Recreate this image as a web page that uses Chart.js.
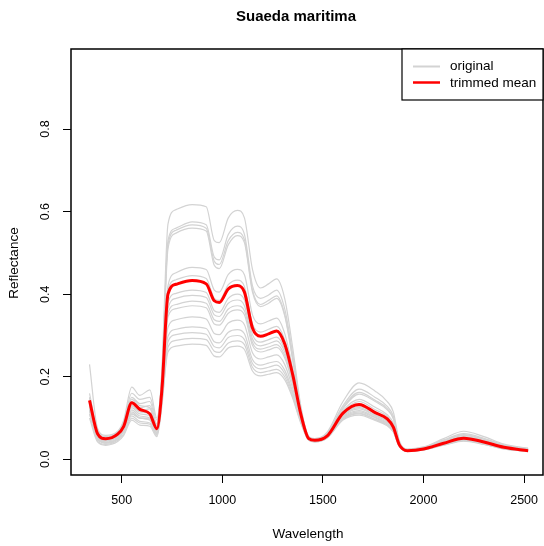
<!DOCTYPE html>
<html>
<head>
<meta charset="utf-8">
<script src="https://cdn.jsdelivr.net/npm/chart.js@4/dist/chart.umd.min.js"></script>
<style>
  html, body { margin: 0; padding: 0; background: #fff; }
  #plot { display: block; }
</style>
</head>
<body>
<canvas id="plot" width="544" height="546"></canvas>
<script>
// Suaeda maritima reflectance spectra (grey) with the trimmed mean (red)

const wavelengths = [340, 380, 420, 480, 510, 550, 590, 640, 675, 700, 730, 770, 850, 920, 960, 985,
    1030, 1075, 1110, 1150, 1190, 1230, 1270, 1310, 1350, 1390, 1430, 1460, 1520, 1600, 1680, 1760,
    1820, 1850, 1880, 1920, 2000, 2100, 2200, 2300, 2400, 2520];

const trimmedMean = [0.143, 0.062, 0.050, 0.061, 0.080, 0.137, 0.121, 0.110, 0.074, 0.170, 0.400, 0.424, 0.433, 0.425, 0.384, 0.380,
    0.413, 0.421, 0.405, 0.318, 0.298, 0.304, 0.311, 0.280, 0.205, 0.110, 0.050, 0.046, 0.056, 0.112, 0.133, 0.113,
    0.098, 0.078, 0.035, 0.021, 0.025, 0.039, 0.051, 0.042, 0.029, 0.021];

const spectrum01 = [0.130, 0.055, 0.045, 0.055, 0.075, 0.130, 0.115, 0.110, 0.070, 0.220, 0.570, 0.605, 0.617, 0.612, 0.530, 0.525,
    0.585, 0.603, 0.585, 0.460, 0.415, 0.425, 0.437, 0.390, 0.270, 0.130, 0.055, 0.050, 0.065, 0.140, 0.185, 0.165,
    0.140, 0.115, 0.045, 0.025, 0.030, 0.050, 0.068, 0.055, 0.037, 0.027];
const spectrum02 = [0.120, 0.050, 0.040, 0.050, 0.070, 0.120, 0.105, 0.100, 0.065, 0.200, 0.530, 0.560, 0.575, 0.568, 0.490, 0.483,
    0.545, 0.565, 0.545, 0.420, 0.390, 0.398, 0.410, 0.365, 0.255, 0.125, 0.055, 0.050, 0.062, 0.130, 0.170, 0.150,
    0.128, 0.105, 0.042, 0.024, 0.029, 0.047, 0.062, 0.051, 0.035, 0.026];
const spectrum03 = [0.150, 0.060, 0.048, 0.058, 0.080, 0.145, 0.130, 0.125, 0.080, 0.210, 0.520, 0.555, 0.568, 0.560, 0.480, 0.472,
    0.530, 0.550, 0.532, 0.410, 0.375, 0.385, 0.396, 0.352, 0.245, 0.120, 0.054, 0.049, 0.060, 0.126, 0.162, 0.143,
    0.123, 0.100, 0.040, 0.023, 0.028, 0.045, 0.060, 0.049, 0.034, 0.025];
const spectrum04 = [0.120, 0.052, 0.042, 0.052, 0.070, 0.115, 0.100, 0.095, 0.062, 0.190, 0.510, 0.548, 0.560, 0.553, 0.470, 0.462,
    0.520, 0.542, 0.525, 0.405, 0.370, 0.378, 0.390, 0.348, 0.240, 0.118, 0.053, 0.048, 0.059, 0.123, 0.158, 0.140,
    0.120, 0.098, 0.040, 0.023, 0.028, 0.044, 0.058, 0.048, 0.033, 0.024];
const spectrum05 = [0.110, 0.050, 0.040, 0.050, 0.068, 0.110, 0.100, 0.095, 0.065, 0.170, 0.420, 0.452, 0.465, 0.460, 0.410, 0.405,
    0.448, 0.460, 0.447, 0.350, 0.328, 0.335, 0.342, 0.305, 0.220, 0.115, 0.052, 0.047, 0.058, 0.118, 0.145, 0.126,
    0.108, 0.088, 0.037, 0.022, 0.027, 0.042, 0.055, 0.046, 0.031, 0.023];
const spectrum06 = [0.160, 0.070, 0.055, 0.066, 0.090, 0.160, 0.145, 0.150, 0.095, 0.190, 0.410, 0.435, 0.445, 0.438, 0.390, 0.385,
    0.423, 0.434, 0.418, 0.328, 0.308, 0.315, 0.322, 0.290, 0.210, 0.112, 0.052, 0.047, 0.057, 0.115, 0.140, 0.120,
    0.104, 0.083, 0.036, 0.022, 0.026, 0.041, 0.053, 0.044, 0.030, 0.022];
const spectrum07 = [0.230, 0.075, 0.058, 0.068, 0.095, 0.175, 0.155, 0.168, 0.100, 0.190, 0.380, 0.402, 0.410, 0.404, 0.360, 0.356,
    0.390, 0.400, 0.386, 0.302, 0.284, 0.290, 0.296, 0.267, 0.196, 0.106, 0.050, 0.046, 0.056, 0.110, 0.132, 0.113,
    0.098, 0.079, 0.035, 0.021, 0.025, 0.040, 0.051, 0.042, 0.029, 0.021];
const spectrum08 = [0.130, 0.058, 0.046, 0.056, 0.075, 0.125, 0.110, 0.105, 0.070, 0.160, 0.365, 0.390, 0.397, 0.392, 0.350, 0.346,
    0.378, 0.386, 0.372, 0.292, 0.275, 0.280, 0.287, 0.260, 0.190, 0.104, 0.050, 0.045, 0.055, 0.108, 0.128, 0.110,
    0.095, 0.077, 0.034, 0.021, 0.025, 0.039, 0.050, 0.041, 0.028, 0.021];
const spectrum09 = [0.140, 0.060, 0.048, 0.060, 0.082, 0.140, 0.125, 0.130, 0.080, 0.170, 0.355, 0.375, 0.383, 0.378, 0.338, 0.334,
    0.364, 0.372, 0.360, 0.283, 0.267, 0.272, 0.278, 0.252, 0.186, 0.102, 0.049, 0.045, 0.055, 0.106, 0.125, 0.107,
    0.093, 0.075, 0.034, 0.021, 0.025, 0.038, 0.049, 0.040, 0.028, 0.020];
const spectrum10 = [0.120, 0.050, 0.040, 0.050, 0.068, 0.105, 0.092, 0.088, 0.060, 0.150, 0.345, 0.365, 0.372, 0.367, 0.328, 0.325,
    0.354, 0.362, 0.350, 0.276, 0.260, 0.265, 0.271, 0.246, 0.182, 0.100, 0.049, 0.044, 0.054, 0.104, 0.122, 0.105,
    0.091, 0.073, 0.033, 0.020, 0.024, 0.037, 0.048, 0.040, 0.027, 0.020];
const spectrum11 = [0.150, 0.065, 0.050, 0.062, 0.085, 0.150, 0.135, 0.140, 0.085, 0.170, 0.320, 0.338, 0.345, 0.340, 0.305, 0.302,
    0.330, 0.337, 0.326, 0.258, 0.243, 0.248, 0.253, 0.230, 0.172, 0.097, 0.048, 0.044, 0.054, 0.102, 0.118, 0.102,
    0.088, 0.071, 0.033, 0.020, 0.024, 0.037, 0.047, 0.039, 0.027, 0.020];
const spectrum12 = [0.110, 0.045, 0.036, 0.046, 0.062, 0.100, 0.088, 0.085, 0.058, 0.140, 0.298, 0.315, 0.321, 0.317, 0.285, 0.282,
    0.308, 0.314, 0.304, 0.242, 0.228, 0.233, 0.237, 0.216, 0.163, 0.094, 0.047, 0.043, 0.053, 0.100, 0.115, 0.100,
    0.086, 0.069, 0.032, 0.020, 0.024, 0.036, 0.046, 0.038, 0.026, 0.020];
const spectrum13 = [0.130, 0.055, 0.044, 0.055, 0.075, 0.130, 0.118, 0.122, 0.075, 0.150, 0.285, 0.302, 0.307, 0.303, 0.273, 0.270,
    0.295, 0.300, 0.290, 0.232, 0.219, 0.223, 0.228, 0.208, 0.158, 0.092, 0.047, 0.043, 0.052, 0.098, 0.112, 0.097,
    0.084, 0.068, 0.032, 0.019, 0.023, 0.035, 0.045, 0.037, 0.026, 0.019];
const spectrum14 = [0.100, 0.042, 0.034, 0.043, 0.058, 0.095, 0.083, 0.080, 0.055, 0.130, 0.272, 0.288, 0.293, 0.290, 0.262, 0.259,
    0.282, 0.287, 0.278, 0.223, 0.210, 0.214, 0.218, 0.200, 0.152, 0.090, 0.046, 0.042, 0.052, 0.097, 0.110, 0.096,
    0.083, 0.067, 0.031, 0.019, 0.023, 0.035, 0.045, 0.037, 0.025, 0.019];
const spectrum15 = [0.120, 0.050, 0.040, 0.050, 0.068, 0.110, 0.100, 0.100, 0.065, 0.140, 0.260, 0.274, 0.279, 0.276, 0.250, 0.248,
    0.270, 0.274, 0.266, 0.214, 0.202, 0.206, 0.210, 0.193, 0.148, 0.088, 0.046, 0.042, 0.051, 0.095, 0.107, 0.094,
    0.081, 0.066, 0.031, 0.019, 0.023, 0.034, 0.044, 0.036, 0.025, 0.019];

const spectra = [spectrum01, spectrum02, spectrum03, spectrum04, spectrum05, spectrum06, spectrum07, spectrum08,
    spectrum09, spectrum10, spectrum11, spectrum12, spectrum13, spectrum14, spectrum15];

const xTicks = [500, 1000, 1500, 2000, 2500];
const yTicks = [0.0, 0.2, 0.4, 0.6, 0.8];
const yTickLabels = ['0.0', '0.2', '0.4', '0.6', '0.8'];
const legendLabels = ['original', 'trimmed mean'];

const GREY = '#d3d3d3';
const RED = '#ff0000';
const FONT = '"Liberation Sans", Arial, Helvetica, sans-serif';

const toPoints = (vals) => vals.map((v, i) => ({ x: wavelengths[i], y: v }));

const lineStyle = {
    pointRadius: 0,
    cubicInterpolationMode: 'monotone',
    fill: false,
};

// red mean first so it ends up drawn on top of the grey spectra
const datasets = [
    { ...lineStyle, label: legendLabels[1], data: toPoints(trimmedMean), borderColor: RED, borderWidth: 3 },
    ...spectra.map(s => ({ ...lineStyle, label: legendLabels[0], data: toPoints(s), borderColor: GREY, borderWidth: 1.2 })),
];

// ─── R-style frame, tick labels, titles and legend ───
const baseDecor = {
    id: 'baseDecor',
    afterDraw(chart) {
        const { ctx, chartArea: a, scales } = chart;
        ctx.save();
        ctx.fillStyle = '#000';
        ctx.strokeStyle = '#000';

        // plot box
        ctx.lineWidth = 1.5;
        ctx.strokeRect(a.left, a.top, a.right - a.left, a.bottom - a.top);

        // title
        ctx.font = 'bold 15px ' + FONT;
        ctx.textAlign = 'center';
        ctx.textBaseline = 'middle';
        ctx.fillText('Suaeda maritima', 296, 17);

        // x tick labels
        ctx.font = '12.5px ' + FONT;
        xTicks.forEach(t => ctx.fillText(String(t), scales.x.getPixelForValue(t), 501));

        // y tick labels (rotated, like R's default)
        yTicks.forEach((t, i) => {
            ctx.save();
            ctx.translate(46, scales.y.getPixelForValue(t));
            ctx.rotate(-Math.PI / 2);
            ctx.fillText(yTickLabels[i], 0, 0);
            ctx.restore();
        });

        // axis titles
        ctx.font = '13.5px ' + FONT;
        ctx.fillText('Wavelength', 308, 534);
        ctx.save();
        ctx.translate(14, 263);
        ctx.rotate(-Math.PI / 2);
        ctx.fillText('Reflectance', 0, 0);
        ctx.restore();

        // legend
        const lx = 402, ly = a.top;
        ctx.fillStyle = '#fff';
        ctx.fillRect(lx, ly, a.right - lx, 51);
        ctx.lineWidth = 1.2;
        ctx.strokeRect(lx, ly, a.right - lx, 51);
        ctx.lineWidth = 2;
        ctx.strokeStyle = GREY;
        ctx.beginPath(); ctx.moveTo(413, 66.5); ctx.lineTo(440, 66.5); ctx.stroke();
        ctx.lineWidth = 2.5;
        ctx.strokeStyle = RED;
        ctx.beginPath(); ctx.moveTo(413, 82.5); ctx.lineTo(440, 82.5); ctx.stroke();
        ctx.fillStyle = '#000';
        ctx.textAlign = 'left';
        ctx.fillText(legendLabels[0], 450, 66);
        ctx.fillText(legendLabels[1], 450, 83);

        ctx.restore();
    }
};

new Chart(document.getElementById('plot'), {
    type: 'line',
    data: { datasets },
    options: {
        responsive: false,
        animation: false,
        devicePixelRatio: 1,
        layout: { padding: { top: 49, right: 1, left: 0, bottom: 0 } },
        plugins: {
            legend: { display: false },
            title: { display: false },
            tooltip: { enabled: false },
        },
        scales: {
            x: {
                type: 'linear',
                min: 248,
                max: 2594,
                afterBuildTicks: s => { s.ticks = xTicks.map(v => ({ value: v })); },
                afterFit: s => { s.height = 71; },
                ticks: { display: false },
                grid: { drawOnChartArea: false, drawTicks: true, tickLength: 8, color: '#000', lineWidth: 1 },
                border: { display: false },
            },
            y: {
                type: 'linear',
                min: -0.038,
                max: 0.994,
                afterBuildTicks: s => { s.ticks = yTicks.map(v => ({ value: v })); },
                afterFit: s => { s.width = 71; },
                ticks: { display: false },
                grid: { drawOnChartArea: false, drawTicks: true, tickLength: 8, color: '#000', lineWidth: 1 },
                border: { display: false },
            },
        },
    },
    plugins: [baseDecor],
});
</script>
</body>
</html>
